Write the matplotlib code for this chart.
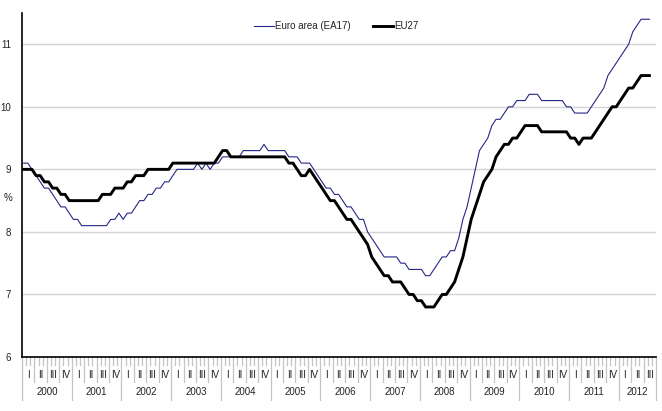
import numpy as np
import matplotlib.pyplot as plt

# monthly unemployment rate (%), Jan 2000 - Aug 2012
years = list(range(2000, 2013))
quarters = ['I', 'II', 'III', 'IV']

ea17 = [
    9.1, 9.1, 9.0, 8.9, 8.8, 8.7, 8.7, 8.6, 8.5, 8.4, 8.4, 8.3,          # 2000
    8.2, 8.2, 8.1, 8.1, 8.1, 8.1, 8.1, 8.1, 8.1, 8.2, 8.2, 8.3,          # 2001
    8.2, 8.3, 8.3, 8.4, 8.5, 8.5, 8.6, 8.6, 8.7, 8.7, 8.8, 8.8,          # 2002
    8.9, 9.0, 9.0, 9.0, 9.0, 9.0, 9.1, 9.0, 9.1, 9.0, 9.1, 9.1,          # 2003
    9.2, 9.2, 9.2, 9.2, 9.2, 9.3, 9.3, 9.3, 9.3, 9.3, 9.4, 9.3,          # 2004
    9.3, 9.3, 9.3, 9.3, 9.2, 9.2, 9.2, 9.1, 9.1, 9.1, 9.0, 8.9,          # 2005
    8.8, 8.7, 8.7, 8.6, 8.6, 8.5, 8.4, 8.4, 8.3, 8.2, 8.2, 8.0,          # 2006
    7.9, 7.8, 7.7, 7.6, 7.6, 7.6, 7.6, 7.5, 7.5, 7.4, 7.4, 7.4,          # 2007
    7.4, 7.3, 7.3, 7.4, 7.5, 7.6, 7.6, 7.7, 7.7, 7.9, 8.2, 8.4,          # 2008
    8.7, 9.0, 9.3, 9.4, 9.5, 9.7, 9.8, 9.8, 9.9, 10.0, 10.0, 10.1,       # 2009
    10.1, 10.1, 10.2, 10.2, 10.2, 10.1, 10.1, 10.1, 10.1, 10.1, 10.1, 10.0,  # 2010
    10.0, 9.9, 9.9, 9.9, 9.9, 10.0, 10.1, 10.2, 10.3, 10.5, 10.6, 10.7,  # 2011
    10.8, 10.9, 11.0, 11.2, 11.3, 11.4, 11.4, 11.4,                      # 2012
]

eu27 = [
    9.0, 9.0, 9.0, 8.9, 8.9, 8.8, 8.8, 8.7, 8.7, 8.6, 8.6, 8.5,          # 2000
    8.5, 8.5, 8.5, 8.5, 8.5, 8.5, 8.5, 8.6, 8.6, 8.6, 8.7, 8.7,          # 2001
    8.7, 8.8, 8.8, 8.9, 8.9, 8.9, 9.0, 9.0, 9.0, 9.0, 9.0, 9.0,          # 2002
    9.1, 9.1, 9.1, 9.1, 9.1, 9.1, 9.1, 9.1, 9.1, 9.1, 9.1, 9.2,          # 2003
    9.3, 9.3, 9.2, 9.2, 9.2, 9.2, 9.2, 9.2, 9.2, 9.2, 9.2, 9.2,          # 2004
    9.2, 9.2, 9.2, 9.2, 9.1, 9.1, 9.0, 8.9, 8.9, 9.0, 8.9, 8.8,          # 2005
    8.7, 8.6, 8.5, 8.5, 8.4, 8.3, 8.2, 8.2, 8.1, 8.0, 7.9, 7.8,          # 2006
    7.6, 7.5, 7.4, 7.3, 7.3, 7.2, 7.2, 7.2, 7.1, 7.0, 7.0, 6.9,          # 2007
    6.9, 6.8, 6.8, 6.8, 6.9, 7.0, 7.0, 7.1, 7.2, 7.4, 7.6, 7.9,          # 2008
    8.2, 8.4, 8.6, 8.8, 8.9, 9.0, 9.2, 9.3, 9.4, 9.4, 9.5, 9.5,          # 2009
    9.6, 9.7, 9.7, 9.7, 9.7, 9.6, 9.6, 9.6, 9.6, 9.6, 9.6, 9.6,          # 2010
    9.5, 9.5, 9.4, 9.5, 9.5, 9.5, 9.6, 9.7, 9.8, 9.9, 10.0, 10.0,        # 2011
    10.1, 10.2, 10.3, 10.3, 10.4, 10.5, 10.5, 10.5,                      # 2012
]

n_months = 153  # axis runs to the end of Q3 2012

plt.rcParams['font.family'] = ['Liberation Sans', 'DejaVu Sans']
txt = '#222222'
sep = '#c4c4c4'
fs = 7

fig = plt.figure(figsize=(6.62, 4.11), dpi=100)
ax = fig.add_axes([22 / 662, 1 - 357 / 411, 634 / 662, 344 / 411])

x = np.arange(len(ea17)) + 0.4
ax.plot(x, ea17, color='#262686', lw=0.8, label='Euro area (EA17)')
ax.plot(x, eu27, color='black', lw=2.1, label='EU27')

ax.set_xlim(0, n_months)
ax.set_ylim(6, 11.5)
ax.set_yticks([6, 7, 8, 9, 10, 11])
ax.yaxis.grid(True, color='#d4d4d4', lw=1)
ax.set_axisbelow(True)
for s in ['top', 'right']:
    ax.spines[s].set_visible(False)
ax.spines['left'].set_linewidth(1.2)
ax.spines['bottom'].set_linewidth(1.2)
ax.tick_params(axis='y', length=0, pad=8, labelsize=fs, labelcolor=txt)
ax.set_xticks([])

# time axis: month ticks, quarter and year separators, labels
px = 1 / 344
trans = ax.get_xaxis_transform()
for m in range(n_months + 1):
    if m % 12 == 0 or m == n_months:
        low = -43 * px
    elif m % 3 == 0:
        low = -25 * px
    else:
        low = -8 * px
    ax.plot([m, m], [0, low], color=sep, lw=0.9, transform=trans, clip_on=False)

for yi, yr in enumerate(years):
    start = yi * 12
    for qi, q in enumerate(quarters):
        qs = start + qi * 3
        if qs >= n_months:
            continue
        ax.text(qs + 1.5, -18 * px, q, transform=trans, ha='center', va='center',
                fontsize=fs, color=txt)
    end = min(start + 12, n_months)
    ax.text((start + end) / 2, -35 * px, str(yr), transform=trans, ha='center',
            va='center', fontsize=fs, color=txt)

fig.text(4 / 662, 1 - 198 / 411, '%', fontsize=fs, color=txt, va='center')

ax.legend(loc='center', bbox_to_anchor=(0.496, 0.962), ncol=2, frameon=False,
          fontsize=fs, handlelength=2.0, handletextpad=0.15, columnspacing=2.3,
          labelcolor=txt)

fig.savefig('out.png', dpi=100)
